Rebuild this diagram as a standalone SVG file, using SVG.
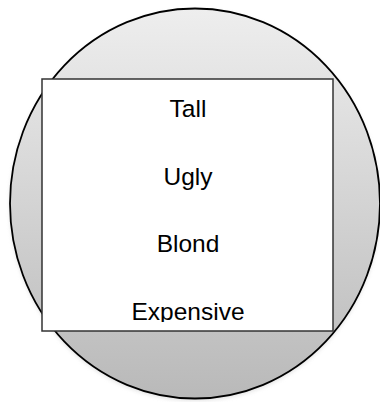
<svg xmlns="http://www.w3.org/2000/svg" width="380" height="402" viewBox="0 0 380 402">
  <defs>
    <linearGradient id="g" x1="0" y1="0" x2="0" y2="1">
      <stop offset="0" stop-color="#eeeeee"/>
      <stop offset="1" stop-color="#b9b9b9"/>
    </linearGradient>
    <filter id="sh" x="-10%" y="-10%" width="120%" height="120%">
      <feGaussianBlur stdDeviation="2"/>
    </filter>
    <clipPath id="tc">
      <rect x="42" y="79" width="291" height="243"/>
    </clipPath>
    <style>
      .lbl { font-family: "Liberation Sans", Arial, sans-serif; font-size: 24.5px; fill: #000; text-anchor: middle; }
    </style>
  </defs>
  <rect width="380" height="402" fill="#ffffff"/>
  <g id="circle">
    <ellipse cx="195" cy="205.5" rx="185" ry="195" fill="#d8d8d8" opacity="0.8" filter="url(#sh)"/>
    <ellipse cx="195" cy="203.5" rx="185" ry="195" fill="url(#g)" stroke="#000" stroke-width="1.8"/>
  </g>
  <g id="box">
    <rect x="42" y="79" width="291" height="252" fill="#ffffff" stroke="#333" stroke-width="1.5"/>
    <g clip-path="url(#tc)">
      <text class="lbl" x="188" y="117">Tall</text>
      <text class="lbl" x="188" y="184.5">Ugly</text>
      <text class="lbl" x="188" y="252">Blond</text>
      <text class="lbl" x="188" y="319.5">Expensive</text>
    </g>
  </g>
</svg>
